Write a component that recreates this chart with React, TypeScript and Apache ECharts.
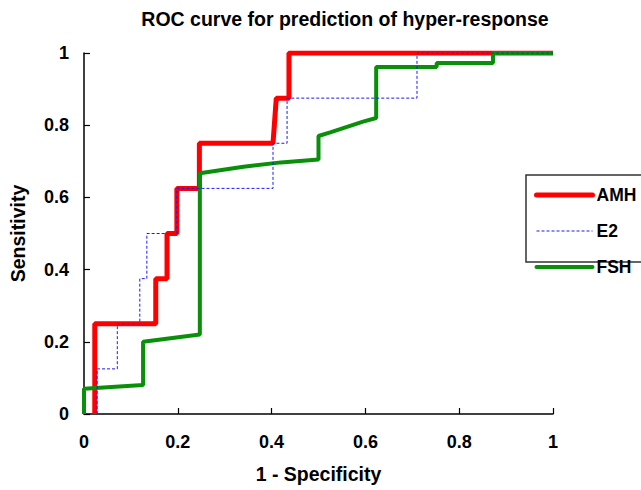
import React, { useEffect, useRef } from "react";
import * as echarts from "echarts";

const titleText = "ROC curve for prediction of hyper-response";
const xName = "1 - Specificity";
const yName = "Sensitivity";
const seriesNames = ["AMH", "E2", "FSH"];

const amhX = [0.023, 0.023, 0.153, 0.153, 0.177, 0.177, 0.198, 0.198, 0.246, 0.246, 0.403, 0.41, 0.437, 0.437, 1];
const amhY = [0, 0.25, 0.25, 0.375, 0.375, 0.5, 0.5, 0.625, 0.625, 0.75, 0.75, 0.875, 0.875, 1, 1];

const e2X = [0.028, 0.028, 0.071, 0.071, 0.119, 0.119, 0.134, 0.134, 0.198, 0.198, 0.403, 0.403, 0.433, 0.433, 0.71, 0.71, 1];
const e2Y = [0, 0.125, 0.125, 0.25, 0.25, 0.375, 0.375, 0.5, 0.5, 0.625, 0.625, 0.75, 0.75, 0.875, 0.875, 1, 1];

const fshX = [0, 0, 0.126, 0.126, 0.247, 0.247, 0.34, 0.42, 0.5, 0.5, 0.525, 0.595, 0.623, 0.623, 0.752, 0.752, 0.872, 0.872, 1];
const fshY = [0, 0.07, 0.08, 0.2, 0.22, 0.667, 0.685, 0.697, 0.705, 0.77, 0.78, 0.81, 0.82, 0.961, 0.961, 0.972, 0.972, 1, 1];

const zip = (xs: number[], ys: number[]) => xs.map((x, i) => [x, ys[i]]);

const FONT = "'Liberation Sans', Arial, sans-serif";

const colors = ["#ff0000", "#1a1aff", "#0a8f0a"];
const widths = [5, 1, 4];

export default function App() {
  const ref = useRef<HTMLDivElement>(null);
  useEffect(() => {
    if (!ref.current) return;
    const chart = echarts.init(ref.current, null, { renderer: "svg" });
    const axisCommon = {
      type: "value" as const,
      min: 0,
      max: 1,
      interval: 0.2,
      splitLine: { show: false },
      axisLine: { lineStyle: { color: "#000", width: 1.5 } },
      axisTick: { inside: true, length: 6, lineStyle: { color: "#000", width: 1.2 } },
      nameLocation: "middle" as const,
      nameTextStyle: { fontFamily: FONT, fontWeight: "bold" as const, fontSize: 19.5, color: "#000" },
    };
    chart.setOption({
      animation: false,
      backgroundColor: "#fff",
      textStyle: { fontFamily: FONT },
      graphic: [
        {
          type: "text",
          x: 345,
          y: 19,
          style: {
            text: titleText,
            fontFamily: FONT,
            fontWeight: "bold",
            fontSize: 19.5,
            fill: "#000",
            textAlign: "center",
            textVerticalAlign: "middle",
          },
        },
        {
          type: "rect",
          shape: { x: 526, y: 175, width: 130, height: 87 },
          style: { fill: "#fff", stroke: "#333", lineWidth: 1.5 },
          z: 5,
        },
      ],
      grid: { left: 84, right: 88, top: 53, bottom: 76 },
      xAxis: {
        ...axisCommon,
        name: xName,
        nameGap: 50,
        axisLabel: { fontFamily: FONT, fontWeight: "bold", fontSize: 18, color: "#000", margin: 19 },
      },
      yAxis: {
        ...axisCommon,
        name: yName,
        nameGap: 56,
        axisLabel: { fontFamily: FONT, fontWeight: "bold", fontSize: 18, color: "#000", margin: 15 },
      },
      legend: {
        data: seriesNames.map((n, i) => ({
          name: n,
          lineStyle: {
            color: colors[i],
            width: widths[i],
            type: i === 1 ? [3, 2] : "solid",
            cap: i === 1 ? "butt" : "round",
          },
        })),
        orient: "vertical",
        left: 534,
        top: 186,
        padding: 0,
        itemWidth: 56,
        itemHeight: 14,
        itemGap: 18,
        z: 10,
        itemStyle: { opacity: 0 },
        textStyle: { fontFamily: FONT, fontWeight: "bold", fontSize: 17.5, color: "#000", padding: [0, 0, 0, -1] },
      },
      series: [
        {
          name: "AMH",
          type: "line",
          data: zip(amhX, amhY),
          symbol: "none",
          lineStyle: { color: colors[0], width: widths[0] },
          itemStyle: { color: colors[0] },
          z: 2,
        },
        {
          name: "E2",
          type: "line",
          data: zip(e2X, e2Y),
          symbol: "none",
          lineStyle: { color: colors[1], width: widths[1], type: [3, 2] },
          itemStyle: { color: colors[1] },
          z: 4,
        },
        {
          name: "FSH",
          type: "line",
          data: zip(fshX, fshY),
          symbol: "none",
          lineStyle: { color: colors[2], width: widths[2] },
          itemStyle: { color: colors[2] },
          z: 3,
        },
      ],
    });
    return () => chart.dispose();
  }, []);
  return (
    <div
      ref={ref}
      style={{ position: "fixed", left: 0, top: 0, width: 641, height: 490, overflow: "hidden" }}
    />
  );
}
